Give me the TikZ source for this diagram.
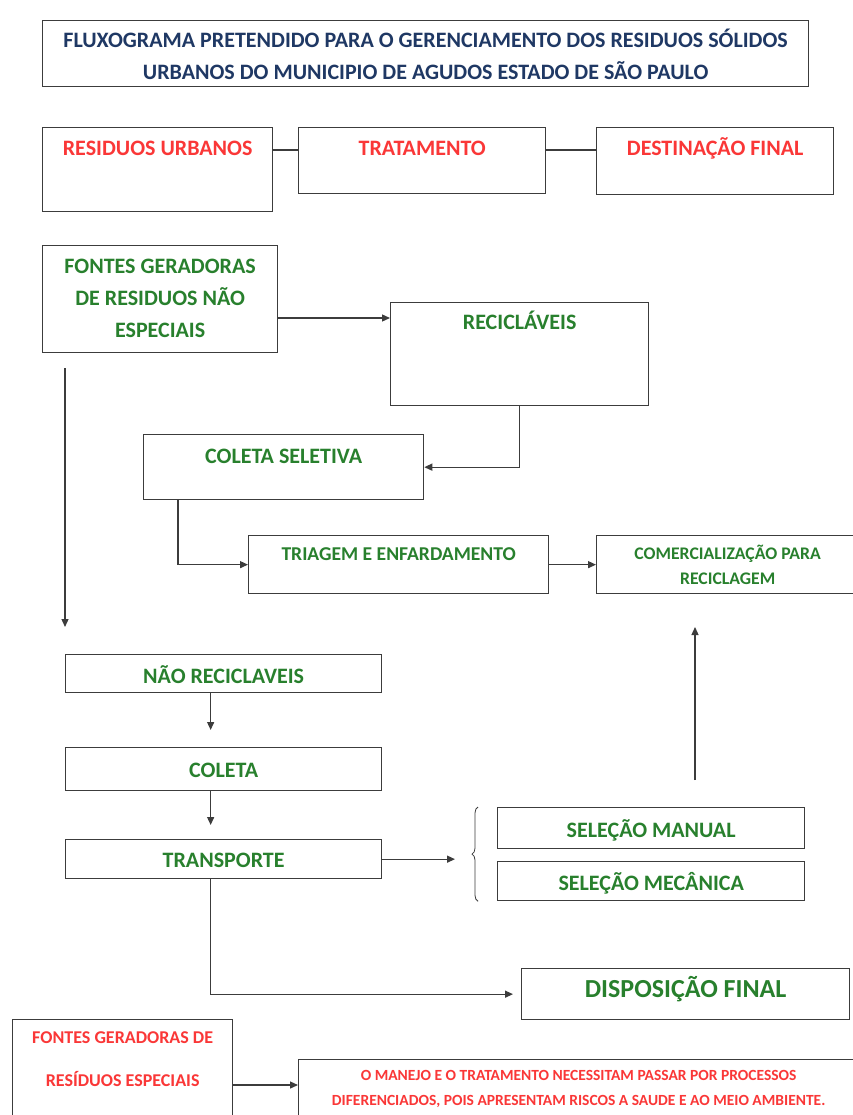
\documentclass[tikz,border=0pt]{standalone}
\usepackage{fontspec}
\setmainfont{Carlito}
\usepackage{tikz}
\usetikzlibrary{arrows.meta,decorations.pathreplacing}

\definecolor{titleblue}{RGB}{31,56,100}
\definecolor{txtred}{RGB}{250,55,55}
\definecolor{txtgreen}{RGB}{40,128,45}
\definecolor{linegray}{RGB}{60,60,60}

% width, height, first baseline, text
\newcommand{\boxtext}[4]{\parbox[c][#2pt][t]{#1pt}{\centering\rule{0pt}{#3pt}#4}}
\newcommand{\setfs}[2]{\bfseries\fontsize{#1}{#2}\selectfont}

\begin{document}
\begin{tikzpicture}
[x=1pt,y=-1pt,->,>={Triangle[length=8pt,width=7pt]},
box/.style={draw=linegray,line width=1.3pt,inner sep=0pt,anchor=north west},
link/.style={draw=linegray,line width=1.3pt},
redtxt/.style={text=txtred},
greentxt/.style={text=txtgreen},
brace/.style={-,draw=linegray,line width=0.8pt,decorate,decoration={brace,amplitude=6pt}}]
\useasboundingbox[fill=white] (0,0) rectangle (852,1115);

% title and header row
\node[box,text=titleblue,font=\setfs{22}{32}] at (42,20) (title) {\boxtext{766}{66}{27}{FLUXOGRAMA PRETENDIDO PARA O GERENCIAMENTO DOS RESIDUOS SÓLIDOS\\URBANOS DO MUNICIPIO DE AGUDOS ESTADO DE SÃO PAULO}};
\node[box,redtxt,font=\setfs{22}{32}] at (42,127)  (ru)   {\boxtext{230}{84}{28}{RESIDUOS URBANOS}};
\node[box,redtxt,font=\setfs{22}{32}] at (298,127) (trat) {\boxtext{247}{66}{28}{TRATAMENTO}};
\node[box,redtxt,font=\setfs{22}{32}] at (596,127) (dest) {\boxtext{237}{67}{28}{DESTINAÇÃO FINAL}};

% recyclables
\node[box,greentxt,font=\setfs{22}{32}] at (42,245)  (fontes)  {\boxtext{235}{107}{28}{FONTES GERADORAS\\DE RESIDUOS NÃO\\ESPECIAIS}};
\node[box,greentxt,font=\setfs{22}{32}] at (390,302) (recicl)  {\boxtext{258}{103}{27}{RECICLÁVEIS}};
\node[box,greentxt,font=\setfs{22}{32}] at (143,434) (colsel)  {\boxtext{280}{65}{29}{COLETA SELETIVA}};
\node[box,greentxt,font=\setfs{19.6}{25}] at (248,535) (triagem) {\boxtext{300}{58}{25}{TRIAGEM E ENFARDAMENTO}};
\node[box,greentxt,font=\setfs{17.7}{25}] at (596,535) (comerc)  {\boxtext{262}{58}{24}{COMERCIALIZAÇÃO PARA\\RECICLAGEM}};

% non recyclables
\node[box,greentxt,font=\setfs{22}{32}] at (65,654)  (naorec) {\boxtext{316}{38}{29}{NÃO RECICLAVEIS}};
\node[box,greentxt,font=\setfs{22}{32}] at (65,747)  (coleta) {\boxtext{316}{43}{30}{COLETA}};
\node[box,greentxt,font=\setfs{22}{32}] at (65,839)  (transp) {\boxtext{316}{39}{28}{TRANSPORTE}};
\node[box,greentxt,font=\setfs{22}{32}] at (497,807) (manual) {\boxtext{307}{41}{30}{SELEÇÃO MANUAL}};
\node[box,greentxt,font=\setfs{22}{32}] at (497,861) (mecan)  {\boxtext{307}{39}{29}{SELEÇÃO MECÂNICA}};
\node[box,greentxt,font=\setfs{26}{32}] at (521,968) (disp)   {\boxtext{328}{51}{29}{DISPOSIÇÃO FINAL}};

% special waste
\node[box,redtxt,font=\setfs{18}{43}]   at (12,1019)  (espec)  {\boxtext{220}{110}{24}{FONTES GERADORAS DE\\RESÍDUOS ESPECIAIS}};
\node[box,redtxt,font=\setfs{15.5}{25}] at (298,1059) (manejo) {\boxtext{560}{70}{21}{O MANEJO E O TRATAMENTO NECESSITAM PASSAR POR PROCESSOS\\DIFERENCIADOS, POIS APRESENTAM RISCOS A SAUDE E AO MEIO AMBIENTE.}};

\coordinate (down1) at (65,368);
\coordinate (down2) at (65,627);
\coordinate (up1) at (695,780);
\coordinate (up2) at (695,627);
\coordinate (sel) at (455,859);

\draw[link,-] ([yshift=-23pt]ru.north east) -- ([yshift=-23pt]trat.north west);
\draw[link,-] ([yshift=-23pt]trat.north east) -- ([yshift=-23pt]dest.north west);
\draw[link] ([yshift=-73pt]fontes.north east) -- ([yshift=-16pt]recicl.north west);
\draw[link] (down1) -- (down2);
\draw[link] (recicl.south) |- (colsel.east);
\draw[link] ([xshift=35pt]colsel.south west) |- (triagem.west);
\draw[link] (triagem.east) -- (comerc.west);
\draw[link] (up1) -- (up2);
\draw[link,shorten >=17pt] ([xshift=-13pt]naorec.south) -- ([xshift=-13pt]coleta.north);
\draw[link,shorten >=14pt] ([xshift=-13pt]coleta.south) -- ([xshift=-13pt]transp.north);
\draw[link] (transp.east) -- (transp.east -| sel);
\draw[brace] ([xshift=-19pt]mecan.south west) -- ([xshift=-19pt]manual.north west);
\draw[link,shorten >=8pt] ([xshift=-13pt]transp.south) |- (disp.west);
\draw[link] ([yshift=-66pt]espec.north east) -- ([yshift=-26pt]manejo.north west);
\end{tikzpicture}
\end{document}
